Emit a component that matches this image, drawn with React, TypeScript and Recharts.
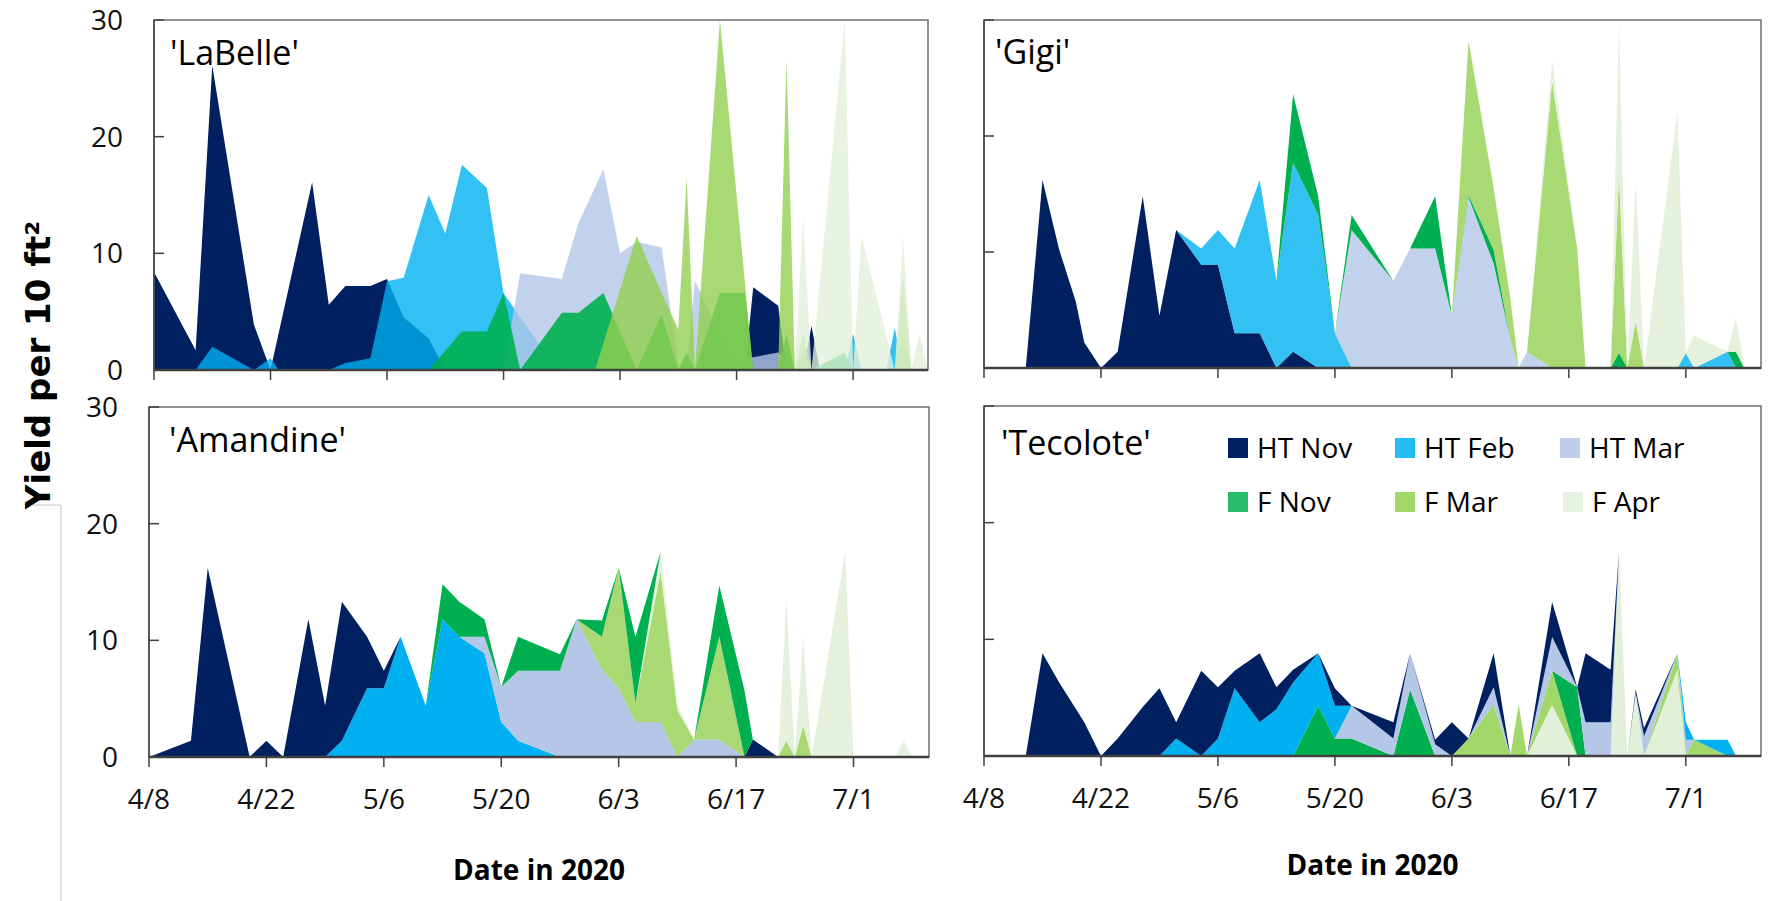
import React from "react";
import { AreaChart, Area, XAxis, YAxis, ReferenceArea, Label } from "recharts";

const SERIES_NAMES = ["HT Nov", "HT Feb", "HT Mar", "F Nov", "F Mar", "F Apr"];
const SERIES_KEYS = ["htNov", "htFeb", "htMar", "fNov", "fMar", "fApr"];
const SERIES_COLORS = ["#002060", "#00B0F0", "#B4C7E7", "#00B050", "#92D050", "#E2F0D9"];

// days after 4/8
const X_TICKS = [0, 14, 28, 42, 56, 70, 84];
const X_TICK_LABELS = ["4/8", "4/22", "5/6", "5/20", "6/3", "6/17", "7/1"];
const Y_TICKS = [0, 10, 20, 30];

// 'LaBelle' (overlapping areas, [day, yield])
const labelleHtNov = [[0, 8.4], [5, 1.7], [7, 26.1], [12, 3.9], [14, 0], [19, 16.1], [21, 5.6], [23, 7.2], [26, 7.2], [28, 7.8], [30, 4.5], [33, 2.7], [35, 0], [71, 0], [72, 7.1], [75, 5.5], [76, 0], [78, 0], [79, 3.8], [80, 0]];
const labelleHtFeb = [[5, 0], [7, 2.0], [12, 0], [14, 1.0], [15, 0], [21, 0], [23, 0.6], [26, 1.0], [28, 7.6], [30, 7.9], [33, 15.0], [35, 11.7], [37, 17.6], [40, 15.6], [42, 6.6], [44, 4.5], [47, 1.5], [49, 0], [83, 0], [84, 3.1], [85, 0], [88, 0], [89, 3.6], [90, 0]];
const labelleHtMar = [[42, 0], [44, 8.3], [49, 7.8], [51, 12.6], [54, 17.2], [56, 10.0], [58, 11.0], [61, 10.5], [63, 0.5], [64, 0], [65, 7.7], [68, 3.0], [70, 1.0], [72, 1.1], [75, 1.5], [77, 0]];
const labelleFNov = [[33, 0], [37, 3.3], [40, 3.3], [42, 6.6], [44, 0], [49, 4.9], [51, 4.9], [54, 6.6], [58, 0], [61, 4.8], [63, 0], [64, 1.5], [65, 0], [68, 6.6], [71, 6.6], [72, 0], [75, 0], [76, 3.1], [77, 0], [78, 1.5], [79, 0], [83, 1.5], [84, 0], [89, 0], [90, 3.1], [91, 0]];
const labelleFMar = [[53, 0], [58, 11.5], [61, 6.6], [63, 3.5], [64, 16.5], [65, 0], [68, 30], [72, 0], [75, 0], [76, 26.7], [77, 0], [78, 3.1], [79, 0], [89, 0], [90, 8.1], [91, 0]];
const labelleFApr = [[77, 0], [78, 13.2], [79, 0], [83, 30], [84, 0], [85, 11.5], [89, 0], [90, 11.5], [91, 0], [92, 3.1], [93, 0]];

// 'Gigi' (stacked)
const gigiDays = [5, 7, 9, 11, 12, 14, 16, 19, 21, 23, 26, 28, 30, 33, 35, 37, 40, 42, 44, 49, 51, 54, 56, 58, 61, 63, 64, 65, 68, 71, 72, 75, 76, 77, 78, 79, 83, 84, 85, 89, 90, 91];
const gigiHtNov = [0, 16.2, 10.2, 5.7, 2.2, 0, 1.4, 14.8, 4.5, 11.9, 8.9, 8.9, 3.0, 3.0, 0, 1.4, 0, 0, 0, 0, 0, 0, 0, 0, 0, 0, 0, 0, 0, 0, 0, 0, 0, 0, 0, 0, 0, 0, 0, 0, 0, 0];
const gigiHtFeb = [0, 0, 0, 0, 0, 0, 0, 0, 0, 0, 1.4, 3.0, 7.3, 13.2, 7.5, 16.3, 13.2, 3.0, 0, 0, 0, 0, 0, 0, 0, 0, 0, 0, 0, 0, 0, 0, 0, 0, 0, 0, 0, 1.3, 0, 1.4, 0, 0];
const gigiHtMar = [0, 0, 0, 0, 0, 0, 0, 0, 0, 0, 0, 0, 0, 0, 0, 0, 0, 0, 11.9, 7.5, 10.3, 10.3, 4.5, 14.7, 9.0, 2.5, 0, 1.4, 0, 0, 0, 0, 0, 0, 0, 0, 0, 0, 0, 0, 0, 0];
const gigiFNov = [0, 0, 0, 0, 0, 0, 0, 0, 0, 0, 0, 0, 0, 0, 0, 5.9, 1.6, 0, 1.3, 0, 0, 4.5, 0, 0.2, 1.2, 0, 0, 0, 0, 0, 0, 0, 1.3, 0, 0, 0, 0, 0, 0, 0, 1.4, 0];
const gigiFMar = [0, 0, 0, 0, 0, 0, 0, 0, 0, 0, 0, 0, 0, 0, 0, 0, 0, 0, 0, 0, 0, 0, 0, 13.3, 5.3, 3.5, 0, 0, 24.7, 10.3, 0, 0, 15.3, 0, 4.0, 0, 0, 0, 0, 0, 0, 0];
const gigiFApr = [0, 0, 0, 0, 0, 0, 0, 0, 0, 0, 0, 0, 0, 0, 0, 0, 0, 0, 0, 0, 0, 0, 0, 0, 0, 0, 0, 0, 1.8, 0, 0, 0, 13.5, 0, 12.1, 0, 22.1, 0, 2.8, 0, 2.9, 0];

// 'Amandine' (stacked)
const amDays = [0, 5, 7, 12, 14, 16, 19, 21, 23, 26, 28, 30, 33, 35, 37, 40, 42, 44, 49, 51, 54, 56, 58, 61, 63, 65, 68, 71, 72, 75, 76, 77, 78, 79, 83, 84, 89, 90, 91];
const amHtFeb = [0, 0, 0, 0, 0, 0, 0, 0, 1.4, 5.9, 5.9, 10.3, 4.4, 11.8, 10.3, 8.9, 3.0, 1.4, 0, 0, 0, 0, 0, 0, 0, 0, 0, 0, 0, 0, 0, 0, 0, 0, 0, 0, 0, 0, 0];
const amHtNov = [0, 1.4, 16.2, 0, 1.4, 0, 11.8, 4.4, 11.9, 4.4, 1.5, 0, 0, 0, 0, 0, 0, 0, 0, 0, 0, 0, 0, 0, 0, 0, 0, 0, 1.5, 0, 0, 0, 0, 0, 0, 0, 0, 0, 0];
const amHtMar = [0, 0, 0, 0, 0, 0, 0, 0, 0, 0, 0, 0, 0, 0, 0, 1.4, 3.0, 6.0, 7.4, 11.8, 7.5, 5.9, 3.0, 3.0, 0, 1.5, 1.5, 0, 0, 0, 0, 0, 0, 0, 0, 0, 0, 0, 0];
const amFMar = [0, 0, 0, 0, 0, 0, 0, 0, 0, 0, 0, 0, 0, 0, 0, 0, 0, 0, 0, 0, 2.8, 10.3, 1.6, 12.9, 4.0, 0, 8.8, 0, 0, 0, 1.4, 0, 2.7, 0, 0, 0, 0, 0, 0];
const amFApr = [0, 0, 0, 0, 0, 0, 0, 0, 0, 0, 0, 0, 0, 0, 0, 0, 0, 0, 0, 0, 0, 0, 0, 1.7, 0.5, 0, 0, 0, 0, 0, 12.1, 0, 7.6, 0, 17.6, 0, 0, 1.4, 0];
const amFNov = [0, 0, 0, 0, 0, 0, 0, 0, 0, 0, 0, 0, 0, 3.0, 3.0, 1.5, 0, 2.9, 1.4, 0, 1.4, 0, 5.7, 0, 0, 0, 4.4, 5.7, 0, 0, 0, 0, 0, 0, 0, 0, 0, 0, 0];

// 'Tecolote' (stacked)
const tecDays = [5, 7, 9, 12, 14, 16, 19, 21, 23, 26, 28, 30, 33, 35, 37, 40, 42, 44, 49, 51, 54, 56, 58, 61, 63, 64, 65, 68, 71, 72, 75, 76, 77, 78, 79, 83, 84, 85, 89, 90];
const tecHtNov = [0, 8.8, 6.3, 2.9, 0, 1.5, 4.2, 5.8, 1.4, 7.3, 4.4, 1.5, 5.9, 1.9, 1.1, 0, 1.5, 0, 1.4, 0, 0.4, 2.9, 0, 2.9, 0, 0, 0, 3.0, 0, 5.9, 4.5, 0, 0, 0.3, 0.7, 0, 0, 0, 0, 0];
const tecHtFeb = [0, 0, 0, 0, 0, 0, 0, 0, 1.5, 0, 1.5, 5.8, 2.9, 4.0, 6.3, 4.5, 2.8, 0, 0, 0, 0, 0, 0, 0, 0, 0, 0, 0, 0, 0, 0, 0, 0, 0, 0, 0, 1.5, 0, 1.4, 0];
const tecHtMar = [0, 0, 0, 0, 0, 0, 0, 0, 0, 0, 0, 0, 0, 0, 0, 0, 0, 2.8, 1.5, 3.1, 1.0, 0, 0, 1.5, 0, 0, 0, 2.9, 0, 2.9, 2.9, 0, 0, 0, 1.7, 0, 1.4, 0, 0, 0];
const tecFNov = [0, 0, 0, 0, 0, 0, 0, 0, 0, 0, 0, 0, 0, 0, 0, 4.3, 1.5, 1.5, 0, 5.7, 0, 0, 0, 0, 0, 0, 0, 0, 5.9, 0, 0, 0, 0, 0, 0, 0, 0, 0, 0, 0];
const tecFMar = [0, 0, 0, 0, 0, 0, 0, 0, 0, 0, 0, 0, 0, 0, 0, 0, 0, 0, 0, 0, 0, 0, 1.5, 4.4, 0, 4.4, 0, 2.9, 0, 0, 0, 0, 0, 0, 0, 1.4, 0, 1.4, 0, 0];
const tecFApr = [0, 0, 0, 0, 0, 0, 0, 0, 0, 0, 0, 0, 0, 0, 0, 0, 0, 0, 0, 0, 0, 0, 0, 0, 0, 0, 0, 4.4, 0, 0, 0, 17.5, 0, 5.4, 0, 7.4, 0, 0, 0, 0];

const FONT = "'Open Sans', sans-serif";
const AXIS_DARK = "#404040";

function mergePairs(lists: Record<string, number[][]>) {
  const map = new Map<number, any>();
  Object.entries(lists).forEach(([key, pts]) =>
    pts.forEach(([d, v]) => {
      const row = map.get(d) ?? { d };
      row[key] = v;
      map.set(d, row);
    })
  );
  return [...map.values()].sort((a, b) => a.d - b.d);
}

function gridRows(days: number[], cols: Record<string, number[]>) {
  return days.map((d, i) => {
    const row: any = { d };
    for (const k in cols) row[k] = cols[k][i];
    return row;
  });
}

const labelleData = mergePairs({
  htNov: labelleHtNov, htFeb: labelleHtFeb, htMar: labelleHtMar,
  fNov: labelleFNov, fMar: labelleFMar, fApr: labelleFApr,
});
const gigiData = gridRows(gigiDays, {
  htNov: gigiHtNov, htFeb: gigiHtFeb, htMar: gigiHtMar, fNov: gigiFNov, fMar: gigiFMar, fApr: gigiFApr,
});
const amData = gridRows(amDays, {
  htNov: amHtNov, htFeb: amHtFeb, htMar: amHtMar, fNov: amFNov, fMar: amFMar, fApr: amFApr,
});
const tecData = gridRows(tecDays, {
  htNov: tecHtNov, htFeb: tecHtFeb, htMar: tecHtMar, fNov: tecFNov, fMar: tecFMar, fApr: tecFApr,
});

function XTick({ x, y, payload, showLabel }: any) {
  const i = X_TICKS.indexOf(payload.value);
  return (
    <g>
      <line x1={x} x2={x} y1={y} y2={y + 10} stroke={AXIS_DARK} strokeWidth={1.5} />
      {showLabel && (
        <text x={x} y={y + 52} textAnchor="middle" fontFamily={FONT} fontSize={28} fill="#111">
          {X_TICK_LABELS[i]}
        </text>
      )}
    </g>
  );
}

function YTick({ x, y, payload, showLabel }: any) {
  return (
    <g>
      <line x1={x} x2={x + 10} y1={y} y2={y} stroke={AXIS_DARK} strokeWidth={1.5} />
      {showLabel && (
        <text x={x - 31} y={y} dy="0.36em" textAnchor="end" fontFamily={FONT} fontSize={28} fill="#111">
          {payload.value}
        </text>
      )}
    </g>
  );
}

type PanelProps = {
  left: number; top: number; width: number; height: number;
  margin: { top: number; right: number; bottom: number; left: number };
  yWidth: number; xHeight: number; data: any[];
  order: number[]; opacity: number[]; stacked: boolean;
  showYLabels: boolean; showXLabels: boolean; titleOffset?: number;
};

function Panel(p: PanelProps) {
  return (
    <div style={{ position: "absolute", left: p.left, top: p.top }}>
      <AreaChart width={p.width} height={p.height} data={p.data} margin={p.margin}>
        <XAxis
          dataKey="d" type="number" domain={[0, 93]} ticks={X_TICKS} interval={0} allowDataOverflow
          height={p.xHeight} tickLine={false} tickSize={0} tickMargin={0}
          axisLine={{ stroke: AXIS_DARK, strokeWidth: 2.5 }}
          tick={(t: any) => <XTick x={t.x} y={t.y} payload={t.payload} showLabel={p.showXLabels} />}
        >
          {p.showXLabels && (
            <Label value="Date in 2020" position="insideBottom" offset={p.titleOffset ?? 0}
              style={{ fontFamily: FONT, fontWeight: 700, fontSize: 28, fill: "#000" }} />
          )}
        </XAxis>
        <YAxis
          type="number" domain={[0, 30]} ticks={Y_TICKS} interval={0} allowDataOverflow
          width={p.yWidth} tickLine={false} tickSize={0} tickMargin={0}
          axisLine={{ stroke: AXIS_DARK, strokeWidth: 1.5 }}
          tick={(t: any) => <YTick x={t.x} y={t.y} payload={t.payload} showLabel={p.showYLabels} />}
        />
        {p.order.map((s, i) => (
          <Area
            key={SERIES_KEYS[s]} dataKey={SERIES_KEYS[s]} name={SERIES_NAMES[s]}
            stackId={p.stacked ? "s" : undefined} type="linear" stroke="none"
            fill={SERIES_COLORS[s]} fillOpacity={p.opacity[i]} connectNulls
            dot={false} activeDot={false} isAnimationActive={false}
          />
        ))}
        <ReferenceArea x1={0} x2={93} y1={0} y2={30} fill="none" stroke="#6f6f6f" strokeWidth={1.5} />
      </AreaChart>
    </div>
  );
}

const LEGEND_POS = [[1228, 458], [1395, 458], [1560, 458], [1228, 512], [1395, 512], [1563, 512]];

export default function App() {
  return (
    <div style={{ position: "absolute", left: 0, top: 0, width: 1770, height: 901, background: "#fff", overflow: "hidden" }}>
      <Panel left={0} top={0} width={940} height={392} margin={{ top: 20, right: 12, bottom: 10, left: 0 }}
        yWidth={154} xHeight={12} data={labelleData} order={[0, 1, 2, 3, 4, 5]}
        opacity={[1, 0.8, 0.8, 0.9, 0.8, 0.8]} stacked={false} showYLabels showXLabels={false} />
      <Panel left={940} top={0} width={830} height={390} margin={{ top: 20, right: 9, bottom: 10, left: 0 }}
        yWidth={44} xHeight={12} data={gigiData} order={[0, 1, 2, 3, 4, 5]}
        opacity={[1, 0.8, 0.8, 1, 0.8, 0.9]} stacked showYLabels={false} showXLabels={false} />
      <Panel left={0} top={390} width={940} height={511} margin={{ top: 17, right: 11, bottom: 19, left: 0 }}
        yWidth={149} xHeight={125} data={amData} order={[1, 0, 2, 4, 5, 3]}
        opacity={[1, 1, 1, 0.8, 0.9, 1]} stacked showYLabels showXLabels titleOffset={2} />
      <Panel left={940} top={390} width={830} height={511} margin={{ top: 16, right: 9, bottom: 20, left: 0 }}
        yWidth={44} xHeight={125} data={tecData} order={[5, 4, 3, 2, 1, 0]}
        opacity={[1, 0.85, 1, 1, 1, 1]} stacked showYLabels={false} showXLabels titleOffset={6} />

      <svg width={1770} height={901} style={{ position: "absolute", left: 0, top: 0, pointerEvents: "none" }}>
        <path d="M33 505 H61 V901" fill="none" stroke="#c4c4c4" strokeWidth={1} />
        <text transform="translate(38,365) rotate(-90)" textAnchor="middle" dominantBaseline="central"
          fontFamily="'DejaVu Sans', sans-serif" fontWeight="bold" fontSize={34} fill="#000">
          Yield per 10 ft²
        </text>
        <text x={170} y={65} fontFamily={FONT} fontSize={34} fill="#000">'LaBelle'</text>
        <text x={995} y={64} fontFamily={FONT} fontSize={34} fill="#000">'Gigi'</text>
        <text x={169} y={452} fontFamily={FONT} fontSize={34} fill="#000">'Amandine'</text>
        <text x={1001} y={455} fontFamily={FONT} fontSize={34} fill="#000">'Tecolote'</text>
        {SERIES_NAMES.map((name, i) => (
          <g key={name}>
            <rect x={LEGEND_POS[i][0]} y={LEGEND_POS[i][1] - 20} width={20} height={20}
              fill={SERIES_COLORS[i]} fillOpacity={i === 0 ? 1 : 0.85} />
            <text x={LEGEND_POS[i][0] + 29} y={LEGEND_POS[i][1]} fontFamily={FONT} fontSize={28} fill="#000">
              {name}
            </text>
          </g>
        ))}
      </svg>
    </div>
  );
}
